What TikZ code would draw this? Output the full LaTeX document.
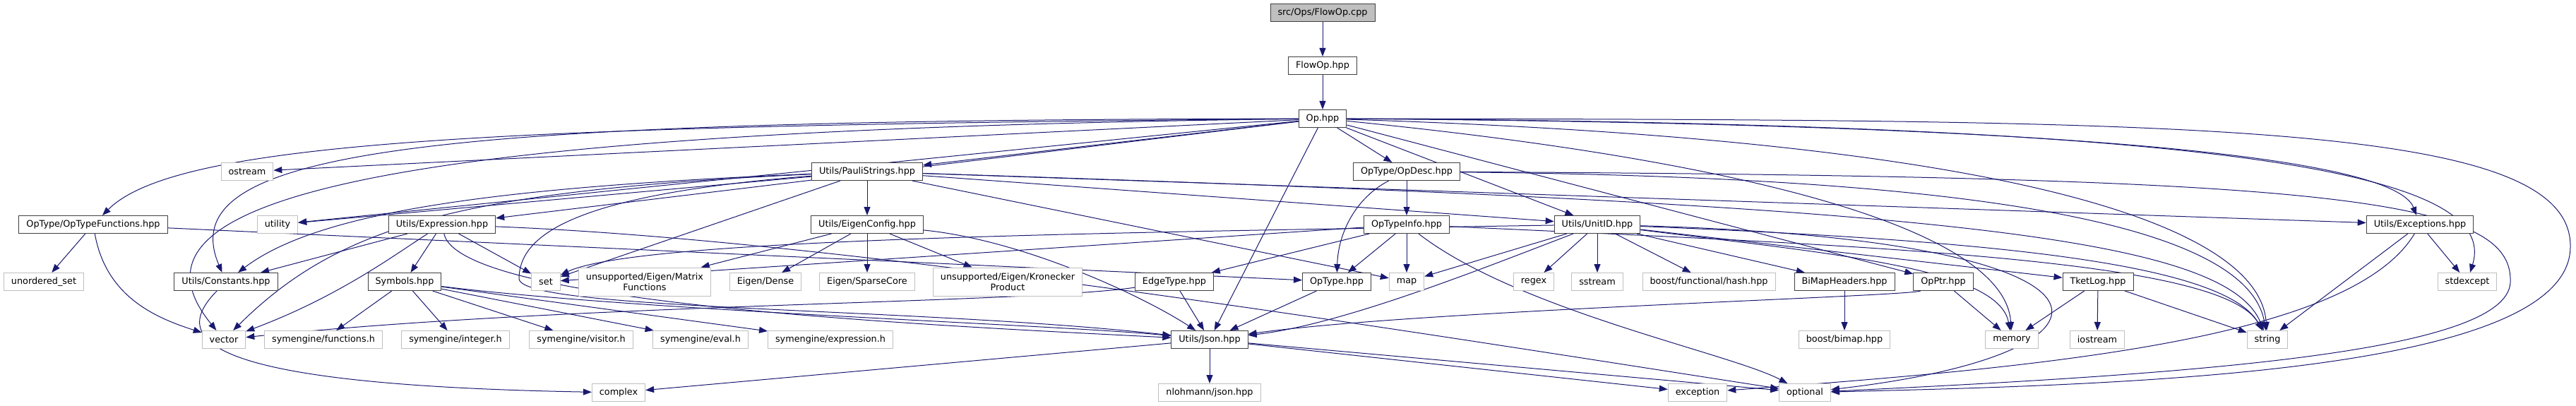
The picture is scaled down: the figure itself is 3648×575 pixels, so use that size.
\documentclass[tikz,border=0pt]{standalone}
\usepackage{fontspec}
\setmainfont{DejaVu Sans}
\usepackage{xcolor}
\definecolor{edgeblue}{HTML}{191970}
\definecolor{boxgray}{HTML}{BFBFBF}
\definecolor{boxdark}{HTML}{404040}
\usepackage{tikz}
\usetikzlibrary{arrows.meta,backgrounds}

\begin{document}
\begin{tikzpicture}[x=1pt,y=-1pt,
  every node/.style={align=center,font=\fontsize{12.8}{15}\selectfont,inner xsep=10.5pt,inner ysep=0pt,minimum height=25pt,line width=1pt,fill=white},
  hdr/.style={draw=boxdark},
  sys/.style={draw=boxgray},
  root/.style={draw=boxdark,fill=boxgray},
  dep/.style={draw=edgeblue,line width=1pt,-{Triangle[length=12pt,width=9pt]}}]
  \useasboundingbox (0,0) rectangle (3648,575);
  % --- filas 0-3 ---
  \node[root] (cpp) at (1873,18) {src/Ops/FlowOp.cpp};
  \node[hdr] (flowhpp) at (1873,93) {FlowOp.hpp};
  \node[hdr] (op) at (1873,168) {Op.hpp};
  \node[sys] (ostream) at (350,243) {ostream};
  \node[hdr] (pauli) at (1228,243) {Utils/PauliStrings.hpp};
  \node[hdr] (opdesc) at (1992,243) {OpType/OpDesc.hpp};
  % --- fila 4 ---
  \node[hdr] (optypefn) at (132,318) {OpType/OpTypeFunctions.hpp};
  \node[sys] (utility) at (393,318) {utility};
  \node[hdr] (expr) at (626,318) {Utils/Expression.hpp};
  \node[hdr] (eigencfg) at (1228,318) {Utils/EigenConfig.hpp};
  \node[hdr] (optypeinfo) at (1992,318) {OpTypeInfo.hpp};
  \node[hdr] (unitid) at (2262,318) {Utils/UnitID.hpp};
  \node[hdr] (exceptions) at (3427,318) {Utils/Exceptions.hpp};
  % --- fila 5 ---
  \node[sys] (unordset) at (62,399) {unordered\_set};
  \node[hdr] (constants) at (320,399) {Utils/Constants.hpp};
  \node[hdr] (symbols) at (573,399) {Symbols.hpp};
  \node[sys] (set) at (773,399) {set};
  \node[sys,minimum height=40pt] (matfn) at (913,399) {unsupported/Eigen/Matrix\\Functions};
  \node[sys] (dense) at (1084,399) {Eigen/Dense};
  \node[sys] (sparse) at (1228,399) {Eigen/SparseCore};
  \node[sys,minimum height=40pt] (kron) at (1427,399) {unsupported/Eigen/Kronecker\\Product};
  \node[hdr] (edgetype) at (1663,399) {EdgeType.hpp};
  \node[hdr] (optype) at (1893,399) {OpType.hpp};
  \node[sys] (map) at (1992,399) {map};
  \node[sys] (regex) at (2172,399) {regex};
  \node[sys] (sstream) at (2262,399) {sstream};
  \node[sys] (hash) at (2420,399) {boost/functional/hash.hpp};
  \node[hdr] (bimaphdr) at (2612,399) {BiMapHeaders.hpp};
  \node[hdr] (opptr) at (2752,399) {OpPtr.hpp};
  \node[hdr] (tketlog) at (2971,399) {TketLog.hpp};
  \node[sys] (stdexcept) at (3494,399) {stdexcept};
  % --- fila 6 ---
  \node[sys] (vector) at (317,481) {vector};
  \node[sys] (symfn) at (458,481) {symengine/functions.h};
  \node[sys] (symint) at (645,481) {symengine/integer.h};
  \node[sys] (symvis) at (823,481) {symengine/visitor.h};
  \node[sys] (symeval) at (992,481) {symengine/eval.h};
  \node[sys] (symexpr) at (1176,481) {symengine/expression.h};
  \node[hdr] (json) at (1713,481) {Utils/Json.hpp};
  \node[sys] (bimap) at (2612,481) {boost/bimap.hpp};
  \node[sys] (memory) at (2849,481) {memory};
  \node[sys] (iostream) at (2970,481) {iostream};
  \node[sys] (string) at (3211,481) {string};
  % --- fila 7 ---
  \node[sys] (complex) at (876,556) {complex};
  \node[sys] (nlohmann) at (1713,556) {nlohmann/json.hpp};
  \node[sys] (exception) at (2404,556) {exception};
  \node[sys] (optional) at (2556,556) {optional};

  \begin{scope}[on background layer]
  % FlowOp.cpp / FlowOp.hpp
  \draw[dep] (cpp) -- (flowhpp);
  \draw[dep] (flowhpp) -- (op);
  % Op.hpp
  \draw[dep] (op) .. controls (700,178) and (250,200) .. (optypefn);
  \draw[dep] (op) -- (ostream);
  \draw[dep] (op) .. controls (600,170) and (240,210) .. (constants);
  \draw[dep] (op) .. controls (420,185) and (170,300) .. (vector);
  \draw[dep] (op) -- (utility);
  \draw[dep] (op) -- (expr);
  \draw[dep] (op) -- (pauli);
  \draw[dep] (op) -- (opdesc);
  \draw[dep] (op) -- (json);
  \draw[dep] (op) -- (unitid);
  \draw[dep] (op) -- (opptr);
  \draw[dep] (op) .. controls (2500,230) and (2840,330) .. (memory);
  \draw[dep] (op) .. controls (2900,200) and (3200,330) .. (string);
  \draw[dep] (op) .. controls (2900,175) and (3390,220) .. (exceptions);
  \draw[dep] (op) .. controls (3200,175) and (3540,250) .. (stdexcept);
  \draw[dep] (op) .. controls (3100,170) and (3643,170) .. (3640,350) .. controls (3638,530) and (3000,545) .. (optional);
  % OpType/OpTypeFunctions.hpp
  \draw[dep] (optypefn) -- (unordset);
  \draw[dep] (optypefn) .. controls (150,420) and (220,450) .. (vector);
  \draw[dep] (optypefn) -- (optype);
  % Utils/Constants.hpp
  \draw[dep] (constants) .. controls (240,480) and (280,545) .. (complex);
  % Utils/PauliStrings.hpp
  \draw[dep] (pauli) -- (utility);
  \draw[dep] (pauli) .. controls (700,265) and (450,300) .. (constants);
  \draw[dep] (pauli) .. controls (650,270) and (480,320) .. (vector);
  \draw[dep] (pauli) -- (set);
  \draw[dep] (pauli) -- (eigencfg);
  \draw[dep] (pauli) -- (unitid);
  \draw[dep] (pauli) -- (map);
  \draw[dep] (pauli) -- (exceptions);
  \draw[dep] (pauli) .. controls (2700,290) and (3150,330) .. (string);
  \draw[dep] (pauli) .. controls (820,275) and (735,330) .. (735,395) .. controls (740,440) and (1300,435) .. (json);
  % Utils/Expression.hpp
  \draw[dep] (expr) -- (constants);
  \draw[dep] (expr) .. controls (560,360) and (480,420) .. (vector);
  \draw[dep] (expr) -- (symbols);
  \draw[dep] (expr) -- (set);
  \draw[dep] (expr) .. controls (650,430) and (1300,460) .. (json);
  \draw[dep] (expr) .. controls (1200,340) and (2000,470) .. (optional);
  % Symbols.hpp
  \draw[dep] (symbols) -- (symfn);
  \draw[dep] (symbols) -- (symint);
  \draw[dep] (symbols) -- (symvis);
  \draw[dep] (symbols) -- (symeval);
  \draw[dep] (symbols) -- (symexpr);
  \draw[dep] (symbols) .. controls (900,440) and (1500,460) .. (json);
  % Utils/EigenConfig.hpp
  \draw[dep] (eigencfg) -- (matfn);
  \draw[dep] (eigencfg) -- (dense);
  \draw[dep] (eigencfg) -- (sparse);
  \draw[dep] (eigencfg) -- (kron);
  \draw[dep] (eigencfg) .. controls (1450,340) and (1620,420) .. (json);
  % OpType/OpDesc.hpp
  \draw[dep] (opdesc) -- (optypeinfo);
  \draw[dep] (opdesc) .. controls (1920,280) and (1895,330) .. (optype);
  \draw[dep] (opdesc) .. controls (2700,250) and (3180,300) .. (string);
  \draw[dep] (opdesc) .. controls (3300,250) and (3560,280) .. (3555,400) .. controls (3550,500) and (3100,530) .. (optional);
  % OpTypeInfo.hpp
  \draw[dep] (optypeinfo) -- (edgetype);
  \draw[dep] (optypeinfo) -- (optype);
  \draw[dep] (optypeinfo) -- (map);
  \draw[dep] (optypeinfo) -- (set);
  \draw[dep] (optypeinfo) .. controls (2700,350) and (3150,370) .. (string);
  \draw[dep] (optypeinfo) .. controls (2150,440) and (2450,500) .. (optional);
  % EdgeType.hpp / OpType.hpp
  \draw[dep] (edgetype) -- (json);
  \draw[dep] (edgetype) .. controls (1450,430) and (800,430) .. (vector);
  \draw[dep] (optype) -- (json);
  % Utils/UnitID.hpp
  \draw[dep] (unitid) -- (map);
  \draw[dep] (unitid) -- (regex);
  \draw[dep] (unitid) -- (sstream);
  \draw[dep] (unitid) -- (hash);
  \draw[dep] (unitid) -- (bimaphdr);
  \draw[dep] (unitid) -- (tketlog);
  \draw[dep] (unitid) .. controls (2100,380) and (1900,460) .. (json);
  \draw[dep] (unitid) .. controls (1500,330) and (900,340) .. (set);
  \draw[dep] (unitid) .. controls (2600,360) and (2830,380) .. (memory);
  \draw[dep] (unitid) .. controls (2800,340) and (3150,370) .. (string);
  \draw[dep] (unitid) .. controls (3050,340) and (3040,500) .. (optional);
  % BiMapHeaders.hpp / OpPtr.hpp / TketLog.hpp
  \draw[dep] (bimaphdr) -- (bimap);
  \draw[dep] (opptr) -- (memory);
  \draw[dep] (opptr) .. controls (2700,420) and (2000,440) .. (json);
  \draw[dep] (tketlog) -- (memory);
  \draw[dep] (tketlog) -- (iostream);
  \draw[dep] (tketlog) -- (string);
  % Utils/Json.hpp
  \draw[dep] (json) -- (nlohmann);
  \draw[dep] (json) -- (complex);
  \draw[dep] (json) -- (exception);
  \draw[dep] (json) -- (optional);
  % Utils/Exceptions.hpp
  \draw[dep] (exceptions) -- (stdexcept);
  \draw[dep] (exceptions) -- (string);
  \draw[dep] (exceptions) .. controls (3330,480) and (2900,520) .. (exception);
  \end{scope}
\end{tikzpicture}
\end{document}
